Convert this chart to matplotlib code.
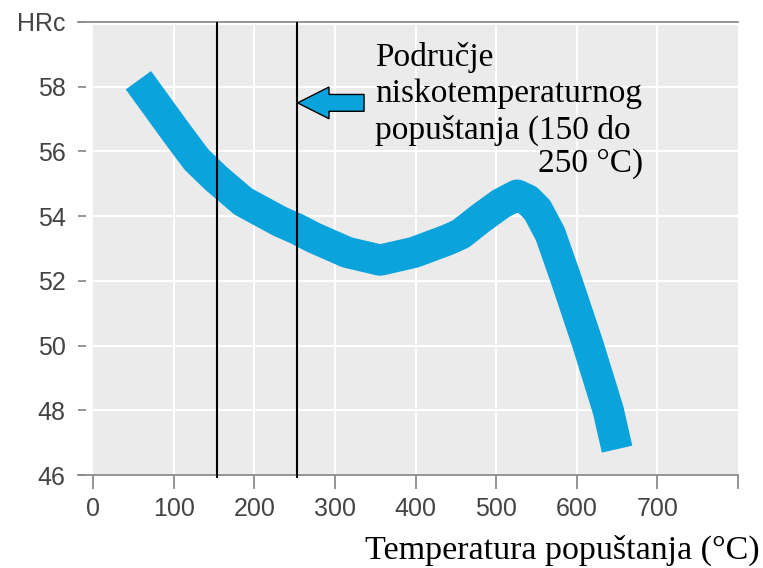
import matplotlib
matplotlib.use("Agg")
import matplotlib.pyplot as plt
from matplotlib.patches import FancyArrow, Rectangle


# tempering curve (temperature in degC, hardness in HRc)
temperature = [56, 104, 128, 153, 186, 232, 253, 273, 315, 356, 398, 439, 456, 481, 506,
               526, 539, 551, 567, 587, 614, 639, 650]
hardness = [58.2, 56.55, 55.75, 55.15, 54.45, 53.83, 53.6, 53.34, 52.88, 52.64, 52.88, 53.26, 53.45,
            53.94, 54.39, 54.65, 54.5, 54.2, 53.45, 52.03, 50.02, 48.0, 46.8]

x_ticks = [0, 100, 200, 300, 400, 500, 600, 700, 800]
x_tick_labels = ["0", "100", "200", "300", "400", "500", "600", "700", ""]
y_ticks = [46, 48, 50, 52, 54, 56, 58, 60]
y_tick_labels = ["46", "48", "50", "52", "54", "56", "58", "HRc"]

low_temper_range = [153, 253]
annotation_lines = "Područje\nniskotemperaturnog\npopuštanja (150 do"
annotation_tail = "250 °C)"

BLUE = "#0aa3dc"
PANEL = "#ebebeb"
AXIS_GRAY = "#8c8c8c"
LABEL_GRAY = "#444444"
SERIF = ["Liberation Serif", "DejaVu Serif"]
SANS = ["Liberation Sans", "DejaVu Sans"]

fig = plt.figure(figsize=(7.63, 5.68), dpi=100)
ax = fig.add_axes([0.1022, 0.1637, 0.8650, 0.7976])
ax.set_xlim(-19, 800)
ax.set_ylim(46, 60)
ax.set_facecolor("white")

ax.add_patch(Rectangle((0, 46), 800, 13.9, facecolor=PANEL, edgecolor="none", zorder=0))
ax.hlines(y_ticks[1:-1], 0, 800, color="white", linewidth=1.5, zorder=1)
ax.vlines(x_ticks[1:-1], 46, 59.9, color="white", linewidth=1.5, zorder=1)

for side in ("left", "right"):
    ax.spines[side].set_visible(False)
for side in ("top", "bottom"):
    ax.spines[side].set_color(AXIS_GRAY)
    ax.spines[side].set_linewidth(1.3)

ax.set_xticks(x_ticks)
ax.set_xticklabels(x_tick_labels, fontfamily=SANS, fontsize=18, color=LABEL_GRAY)
ax.set_yticks(y_ticks)
ax.set_yticklabels(y_tick_labels, fontfamily=SANS, fontsize=18, color=LABEL_GRAY)
ax.tick_params(axis="x", direction="out", length=10, width=1.3, color=AXIS_GRAY, pad=6)
ax.tick_params(axis="y", direction="in", length=5.5, width=1.3, color=AXIS_GRAY, pad=9)

ax.vlines(low_temper_range, 45.9, 60, color="black", linewidth=1.5, zorder=3, clip_on=False)

ax.plot(temperature, hardness, color=BLUE, linewidth=22.5,
        solid_joinstyle="round", solid_capstyle="butt", zorder=2)

ax.add_patch(FancyArrow(336, 57.5, -82.5, 0, width=0.52, head_width=0.98, head_length=39,
                        length_includes_head=True, facecolor=BLUE, edgecolor="black",
                        linewidth=1.0, zorder=4))

fig.text(375 / 763, 1 - 42 / 568, annotation_lines, ha="left", va="top",
         fontfamily=SERIF, fontsize=24, linespacing=1.24)
fig.text(643 / 763, 1 - 172 / 568, annotation_tail, ha="right", va="baseline",
         fontfamily=SERIF, fontsize=24)

fig.text(760 / 763, 1 - 550 / 568, "Temperatura popuštanja (°C)", ha="right", va="center",
         fontfamily=SERIF, fontsize=24.5)

fig.savefig("out.png", dpi=100)
plt.close(fig)
